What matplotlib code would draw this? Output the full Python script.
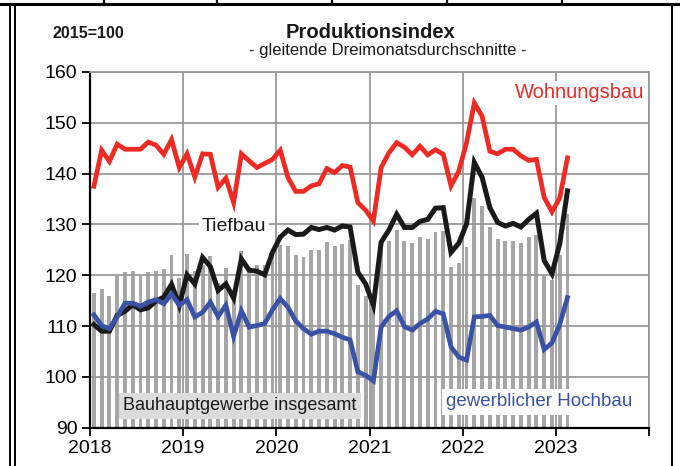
import numpy as np
import matplotlib
matplotlib.use("Agg")
import matplotlib.pyplot as plt
from matplotlib.lines import Line2D

plt.rcParams['font.family'] = ['Liberation Sans', 'DejaVu Sans']

# ---- data (monthly, Jan 2018 - Feb 2023, 3-month moving averages, 2015=100)
wohnungsbau = [137.5, 144.6, 142.4, 145.8, 144.8, 144.8, 144.8, 146.2, 145.6, 143.8, 146.7, 141.2,
               143.9, 139.3, 143.9, 143.8, 137.3, 139.1, 134.3, 143.9, 142.5, 141.2, 142.0, 142.8,
               144.6, 139.2, 136.5, 136.5, 137.6, 138.0, 141.0, 140.2, 141.6, 141.3, 134.3, 132.8,
               130.7, 141.2, 144.1, 146.1, 145.2, 143.7, 145.4, 143.7, 144.7, 143.8, 137.6, 140.5,
               146.1, 153.9, 151.3, 144.4, 143.9, 144.8, 144.8, 143.5, 142.6, 142.8, 135.3, 132.5,
               135.2, 143.1]
tiefbau = [110.3, 109.0, 109.0, 112.1, 112.9, 114.2, 113.2, 113.6, 114.9, 115.7, 118.2, 114.1,
           120.1, 118.3, 123.5, 121.7, 117.0, 118.3, 115.5, 123.2, 121.0, 120.8, 120.1, 124.5,
           127.5, 128.9, 128.0, 128.1, 129.4, 129.0, 129.4, 128.9, 129.7, 129.5, 120.6, 118.3,
           114.1, 126.5, 128.9, 132.0, 129.4, 129.4, 130.6, 131.0, 133.2, 133.3, 124.5, 126.3,
           130.1, 142.2, 139.3, 133.3, 130.4, 129.7, 130.2, 129.5, 131.0, 132.2, 122.9, 120.3,
           126.2, 136.6]
gewerbl_hochbau = [112.2, 110.1, 109.5, 111.8, 114.5, 114.5, 113.9, 114.7, 115.2, 114.4, 116.3, 114.1,
                   115.2, 111.8, 112.7, 114.7, 111.9, 114.1, 108.0, 113.0, 109.8, 110.1, 110.5, 113.2,
                   115.4, 113.7, 111.0, 109.5, 108.4, 109.0, 109.0, 108.5, 107.8, 107.3, 101.0, 100.3,
                   99.2, 109.8, 111.9, 113.0, 109.9, 109.2, 110.5, 111.4, 112.9, 112.4, 105.9, 103.9,
                   103.3, 111.8, 111.9, 112.1, 110.1, 109.8, 109.5, 109.2, 109.8, 110.8, 105.4, 106.7,
                   110.3, 115.6]
insgesamt = [116.5, 117.3, 116.0, 119.8, 120.6, 120.9, 119.8, 120.6, 120.9, 121.2, 124.0, 119.5,
             124.1, 120.8, 122.0, 123.7, 118.5, 121.4, 117.0, 124.7, 120.8, 122.0, 122.0, 123.8,
             126.0, 125.8, 124.0, 123.6, 125.0, 125.0, 126.5, 125.8, 126.2, 127.0, 118.0, 116.0,
             113.5, 126.0, 126.7, 128.9, 126.8, 126.3, 127.5, 127.1, 128.6, 128.8, 121.6, 122.4,
             125.6, 135.2, 133.7, 129.4, 127.1, 126.8, 126.8, 126.3, 127.5, 127.9, 120.0, 119.1,
             123.9, 132.0]
years = [2018, 2019, 2020, 2021, 2022, 2023, 2024]
year_labels = ['2018', '2019', '2020', '2021', '2022', '2023', '']
y_ticks = [90, 100, 110, 120, 130, 140, 150, 160]

W, H = 680, 466
fig = plt.figure(figsize=(W / 100, H / 100), dpi=100)
fig.patch.set_facecolor('white')

def fx(px):
    return px / W

def fy(py):
    return 1 - py / H

ax = fig.add_axes([fx(90), fy(427.7), fx(649) - fx(90), fy(72) - fy(427.7)])

x = 2018 + (np.arange(len(insgesamt)) + 0.5) / 12.0

ax.bar(x, insgesamt, width=0.5 / 12, color='#a6a6a6', zorder=1, linewidth=0)
ax.set_axisbelow('line')
ax.grid(True, color='#9a9a9a', linewidth=1.3)

ax.plot(x, wohnungsbau, color='#ee2a25', lw=3.4, zorder=3, solid_joinstyle='miter')
ax.plot(x, tiefbau, color='#1a1a1a', lw=3.6, zorder=3, solid_joinstyle='miter')
ax.plot(x, gewerbl_hochbau, color='#3a52a5', lw=3.4, zorder=3, solid_joinstyle='miter')

ax.set_xlim(2018, 2024)
ax.set_ylim(90, 160)
ax.set_xticks(years)
ax.set_xticklabels(year_labels)
ax.set_yticks(y_ticks)
ax.tick_params(axis='both', direction='out', length=6, width=1.3, color='black',
               labelsize=14, pad=3)

for s in ['left', 'bottom']:
    ax.spines[s].set_color('black')
    ax.spines[s].set_linewidth(1.6)
for s in ['top', 'right']:
    ax.spines[s].set_color('#9a9a9a')
    ax.spines[s].set_linewidth(1.3)

# titles
fig.text(fx(371), fy(33), 'Produktionsindex', ha='center', va='center', fontsize=14.5,
         fontweight='bold', color='#1a1a1a')
fig.text(fx(388), fy(51), '- gleitende Dreimonatsdurchschnitte -', ha='center', va='center',
         fontsize=12, color='#1a1a1a')
fig.text(fx(52), fy(33), '2015=100', ha='left', va='center', fontsize=11.5,
         fontweight='bold', color='#1a1a1a')

# series labels
fig.text(fx(580), fy(93), 'Wohnungsbau', ha='center', va='center', fontsize=14.5,
         color='#ee2a25', zorder=5,
         bbox=dict(facecolor='white', edgecolor='none', pad=2))
fig.text(fx(234), fy(227), 'Tiefbau', ha='center', va='center', fontsize=14,
         color='#1a1a1a', zorder=5,
         bbox=dict(facecolor='white', edgecolor='none', pad=2))
fig.text(fx(240), fy(406), 'Bauhauptgewerbe insgesamt', ha='center', va='center', fontsize=13,
         color='#1a1a1a', zorder=5,
         bbox=dict(facecolor='#dcdcdc', edgecolor='none', pad=3))
fig.text(fx(539), fy(402), 'gewerblicher Hochbau', ha='center', va='center', fontsize=13.5,
         color='#3a52a5', zorder=5,
         bbox=dict(facecolor='white', edgecolor='none', pad=3))

# outer frame lines of the page
def pline(x0, y0, x1, y1, lw=1.6):
    fig.add_artist(Line2D([fx(x0), fx(x1)], [fy(y0), fy(y1)], transform=fig.transFigure,
                          color='black', lw=lw))

pline(0, 4, 680, 4, lw=2.2)
for xs in [104, 217, 332, 447, 562]:
    pline(xs, 0, xs, 4, lw=1.6)
pline(10, 4, 10, 466, lw=1.4)
pline(15, 4, 15, 466, lw=1.4)
pline(672, 4, 672, 466, lw=1.4)

fig.savefig('out.png', dpi=100, facecolor='white')
